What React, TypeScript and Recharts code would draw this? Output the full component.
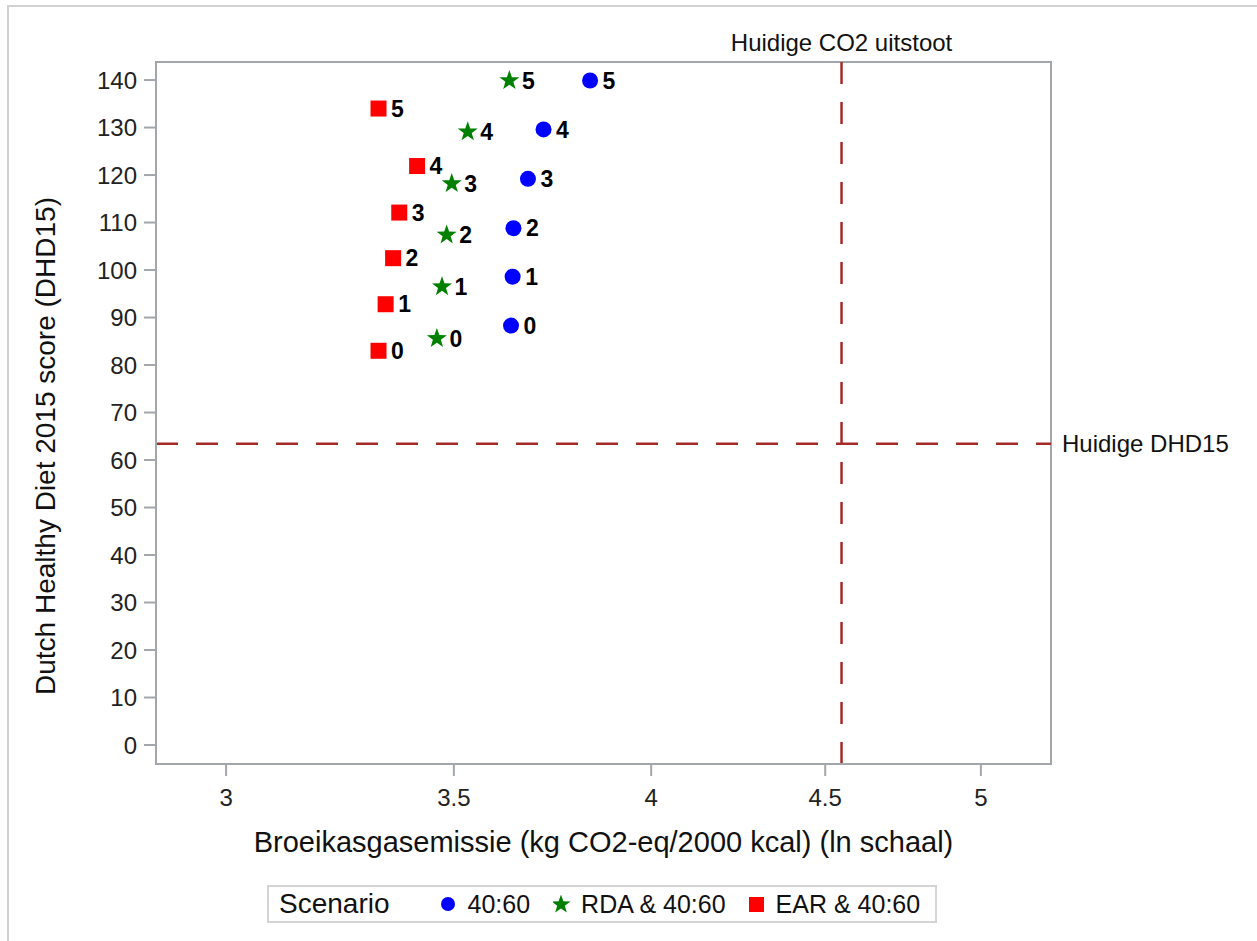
import {
  ScatterChart,
  Scatter,
  XAxis,
  YAxis,
  ReferenceLine,
  ReferenceArea,
  LabelList,
  Legend,
} from 'recharts';

// scenario steps (labels next to each marker)
const steps = ['0', '1', '2', '3', '4', '5'];

// 40:60
const ghgRatio = [3.638, 3.642, 3.644, 3.68, 3.719, 3.838];
const dhdRatio = [88.3, 98.6, 108.8, 119.2, 129.6, 139.9];

// RDA & 40:60
const ghgRda = [3.46, 3.472, 3.483, 3.495, 3.533, 3.634];
const dhdRda = [85.6, 96.5, 107.4, 118.2, 129.1, 139.9];

// EAR & 40:60
const ghgEar = [3.326, 3.342, 3.359, 3.373, 3.414, 3.326];
const dhdEar = [83.0, 92.8, 102.5, 112.1, 121.9, 134.0];

const xTicks = [3, 3.5, 4, 4.5, 5];
const yTicks = [0, 10, 20, 30, 40, 50, 60, 70, 80, 90, 100, 110, 120, 130, 140];

const currentGhg = 4.55;
const currentDhd = 63.4;

const xDomain = [2.861, 5.243];
const yDomain = [-4.0, 143.8];

const FONT = '"Liberation Sans", Arial, Helvetica, sans-serif';
const FRAME = '#a3a7ab';
const REF = '#a52a2a';

const toPoints = (xs: number[], ys: number[]) =>
  xs.map((x, i) => ({ x, y: ys[i], label: steps[i] }));

const seriesRatio = toPoints(ghgRatio, dhdRatio);
const seriesRda = toPoints(ghgRda, dhdRda);
const seriesEar = toPoints(ghgEar, dhdEar);

function starPath(cx: number, cy: number, outer: number, inner: number) {
  let d = '';
  for (let i = 0; i < 10; i++) {
    const r = i % 2 === 0 ? outer : inner;
    const a = -Math.PI / 2 + (i * Math.PI) / 5;
    d += `${i === 0 ? 'M' : 'L'}${cx + r * Math.cos(a)},${cy + r * Math.sin(a)}`;
  }
  return d + 'Z';
}

const CircleShape = (p: any) => <circle cx={p.cx} cy={p.cy} r={8} fill="#0000ff" />;
const StarShape = (p: any) => <path d={starPath(p.cx, p.cy, 10.5, 4.2)} fill="#008000" />;
const SquareShape = (p: any) => (
  <rect x={p.cx - 8} y={p.cy - 8} width={16} height={16} fill="#ff0000" />
);

const legendItems = [
  { name: '40:60', icon: <circle cx={8} cy={9} r={7} fill="#0000ff" />, gap: 23 },
  { name: 'RDA & 40:60', icon: <path d={starPath(8, 9.5, 10, 4)} fill="#008000" />, gap: 22 },
  { name: 'EAR & 40:60', icon: <rect x={1} y={2} width={15} height={15} fill="#ff0000" />, gap: 0 },
];

function ScenarioLegend() {
  return (
    <div
      style={{
        display: 'flex',
        alignItems: 'center',
        width: 670,
        height: 38,
        border: '2px solid #d4d4d4',
        boxSizing: 'border-box',
        fontFamily: FONT,
        color: '#111',
        paddingLeft: 10,
      }}
    >
      <span style={{ fontSize: 28, marginRight: 50 }}>Scenario</span>
      {legendItems.map((it) => (
        <span key={it.name} style={{ display: 'flex', alignItems: 'center', marginRight: it.gap }}>
          <svg width={18} height={18} style={{ marginRight: 10 }}>
            {it.icon}
          </svg>
          <span style={{ fontSize: 25 }}>{it.name}</span>
        </span>
      ))}
    </div>
  );
}

const TopRefLabel = (props: any) => {
  const { x, y } = props.viewBox;
  return (
    <text x={x} y={y - 11} textAnchor="middle" fontSize={24} fill="#111" fontFamily={FONT}>
      Huidige CO2 uitstoot
    </text>
  );
};

const RightRefLabel = (props: any) => {
  const { x, y, width } = props.viewBox;
  return (
    <text x={x + width + 11} y={y + 8} textAnchor="start" fontSize={24} fill="#111" fontFamily={FONT}>
      Huidige DHD15
    </text>
  );
};

const YTitle = () => (
  <text
    x={55}
    y={446}
    transform="rotate(-90 55 446)"
    textAnchor="middle"
    fontSize={28}
    fill="#111"
    fontFamily={FONT}
  >
    Dutch Healthy Diet 2015 score (DHD15)
  </text>
);

export default function App() {
  return (
    <div style={{ position: 'absolute', left: 0, top: 0, width: 1257, height: 941, background: '#fff' }}>
      <div
        style={{
          position: 'absolute',
          left: 7,
          top: 5,
          right: 0,
          bottom: 0,
          borderTop: '2px solid #d2d2d2',
          borderLeft: '2px solid #d2d2d2',
        }}
      />
      <ScatterChart
        width={1257}
        height={941}
        margin={{ top: 62, right: 206, bottom: 127, left: 0 }}
        style={{ fontFamily: FONT, position: 'absolute', left: 0, top: 0 }}
      >
        <XAxis
          type="number"
          dataKey="x"
          scale="log"
          domain={xDomain}
          ticks={xTicks}
          allowDataOverflow
          height={50}
          stroke={FRAME}
          strokeWidth={2}
          tickSize={12}
          tickMargin={13}
          tick={{ fontSize: 24, fill: '#222' }}
          label={{
            value: 'Broeikasgasemissie (kg CO2-eq/2000 kcal) (ln schaal)',
            position: 'insideBottom',
            offset: -38,
            fontSize: 29,
            fill: '#111',
          }}
        />
        <YAxis
          type="number"
          dataKey="y"
          domain={yDomain}
          ticks={yTicks}
          allowDataOverflow
          width={156}
          stroke={FRAME}
          strokeWidth={2}
          tickSize={12}
          tickMargin={7}
          tick={{ fontSize: 24, fill: '#222' }}
          label={<YTitle />}
        />
        <ReferenceArea
          x1={xDomain[0]}
          x2={xDomain[1]}
          y1={yDomain[0]}
          y2={yDomain[1]}
          fill="none"
          stroke={FRAME}
          strokeWidth={2}
          fillOpacity={0}
        />
        <ReferenceLine
          x={currentGhg}
          stroke={REF}
          strokeWidth={2.5}
          strokeDasharray="22 18"
          label={<TopRefLabel />}
        />
        <ReferenceLine
          y={currentDhd}
          stroke={REF}
          strokeWidth={2.5}
          strokeDasharray="22 18"
          label={<RightRefLabel />}
        />
        <Scatter name="40:60" data={seriesRatio} shape={CircleShape} isAnimationActive={false}>
          <LabelList dataKey="label" position="right" offset={8} fontSize={23} fontWeight="bold" fill="#000" />
        </Scatter>
        <Scatter name="RDA & 40:60" data={seriesRda} shape={StarShape} isAnimationActive={false}>
          <LabelList dataKey="label" position="right" offset={8} fontSize={23} fontWeight="bold" fill="#000" />
        </Scatter>
        <Scatter name="EAR & 40:60" data={seriesEar} shape={SquareShape} isAnimationActive={false}>
          <LabelList dataKey="label" position="right" offset={8} fontSize={23} fontWeight="bold" fill="#000" />
        </Scatter>
        <Legend
          layout="horizontal"
          align="center"
          verticalAlign="middle"
          content={<ScenarioLegend />}
          wrapperStyle={{ left: 267, top: 885, width: 670, height: 38 }}
        />
      </ScatterChart>
    </div>
  );
}
